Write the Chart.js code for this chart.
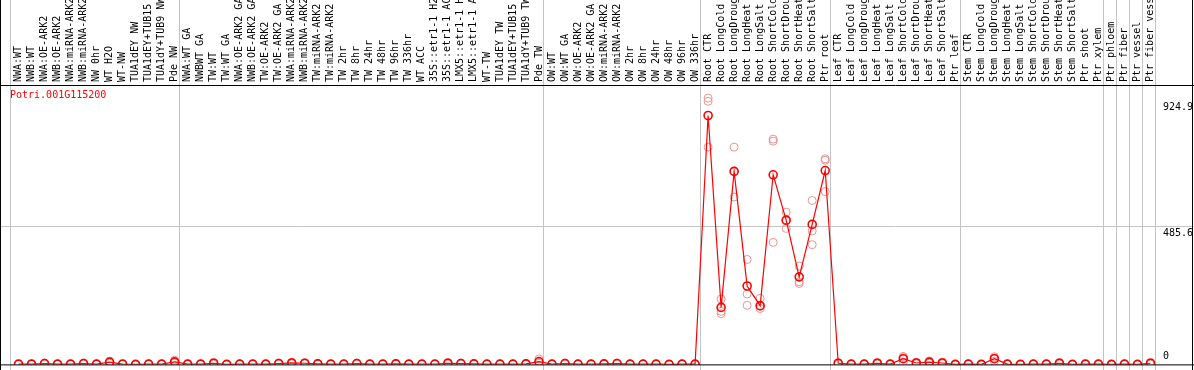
<!DOCTYPE html>
<html lang="en">
<head>
<meta charset="UTF-8">
<title>Potri.001G115200</title>
<script src="https://cdn.jsdelivr.net/npm/chart.js@4.4.9/dist/chart.umd.min.js"></script>
<style>
    html, body { margin: 0; padding: 0; background: #ffffff; }
</style>
</head>
<body>
<canvas id="myChartCanvas" width="1194" height="370"></canvas>
<script>
    // categories (labels are cut at 14 chars like in the picture)
    var categorias = [
        'NWA:WT', 'NWB:WT', 'NWA:OE-ARK2', 'NWB:OE-ARK2', 'NWA:miRNA-ARK2', 'NWB:miRNA-ARK2', 'NW 0hr', 'WT H2O',
        'WT-NW', 'TUA1dEY NW', 'TUA1dEY+TUB15', 'TUA1dY+TUB9 NW', 'Pde NW',
        'NWA:WT GA', 'NWBWT GA', 'TW:WT', 'TW:WT GA', 'NWA:OE-ARK2 GA', 'NWB:OE-ARK2 GA', 'TW:OE-ARK2', 'TW:OE-ARK2 GA',
        'NWA:miRNA-ARK2', 'NWB:miRNA-ARK2', 'TW:miRNA-ARK2', 'TW:miRNA-ARK2', 'TW 2hr', 'TW 8hr', 'TW 24hr', 'TW 48hr',
        'TW 96hr', 'TW 336hr', 'WT ACC', '35S::etr1-1 H2', '35S::etr1-1 AC', 'LMX5::etr1-1 H', 'LMX5::etr1-1 A', 'WT-TW',
        'TUA1dEY TW', 'TUA1dEY+TUB15', 'TUA1dY+TUB9 TW', 'Pde TW',
        'OW:WT', 'OW:WT GA', 'OW:OE-ARK2', 'OW:OE-ARK2 GA', 'OW:miRNA-ARK2', 'OW:miRNA-ARK2', 'OW 2hr', 'OW 8hr',
        'OW 24hr', 'OW 48hr', 'OW 96hr', 'OW 336hr',
        'Root CTR', 'Root LongCold', 'Root LongDroug', 'Root LongHeat', 'Root LongSalt', 'Root ShortCold',
        'Root ShortDrou', 'Root ShortHeat', 'Root ShortSalt', 'Ptr root',
        'Leaf CTR', 'Leaf LongCold', 'Leaf LongDroug', 'Leaf LongHeat', 'Leaf LongSalt', 'Leaf ShortCold',
        'Leaf ShortDrou', 'Leaf ShortHeat', 'Leaf ShortSalt', 'Ptr leaf',
        'Stem CTR', 'Stem LongCold', 'Stem LongDroug', 'Stem LongHeat', 'Stem LongSalt', 'Stem ShortCold',
        'Stem ShortDrou', 'Stem ShortHeat', 'Stem ShortSalt', 'Ptr shoot', 'Ptr xylem',
        'Ptr phloem', 'Ptr fiber', 'Ptr vessel', 'Ptr fiber vess'
    ];

    // group separators (index of first category of each group)
    var gruposInicio = [0, 13, 41, 53, 63, 73, 84, 85, 86, 87, 88];

    // mean expression
    var media = [
        1, 1, 3, 1, 1, 3, 1, 8, 1, 0, 1, 1, 9,
        1, 1, 4, 0, 1, 1, 1, 3, 5, 4, 2, 1, 1, 3, 1, 1, 2, 1, 1, 1, 4, 3, 2, 1, 1, 1, 2, 10,
        1, 3, 1, 1, 2, 3, 1, 1, 1, 0, 1, 1,
        873, 200, 677, 275, 206, 665, 506, 307, 491, 680,
        4, 1, 1, 4, 1, 20, 5, 8, 5, 0,
        1, 0, 20, 1, 0, 1, 1, 4, 0, 1, 1, 0, 1, 0, 4
    ];

    // replicates
    var rep1 = [
        1, 1, 5, 1, 1, 5, 1, 11, 1, 0, 1, 1, 15,
        1, 1, 7, 0, 1, 1, 1, 5, 8, 6, 3, 1, 1, 5, 1, 1, 3, 1, 1, 1, 7, 5, 3, 1, 1, 1, 3, 19,
        1, 5, 1, 1, 3, 5, 1, 1, 1, 0, 1, 1,
        934, 229, 762, 368, 232, 790, 534, 345, 575, 721,
        6, 1, 1, 7, 1, 28, 8, 12, 8, 0,
        1, 0, 27, 1, 0, 1, 1, 7, 0, 1, 1, 0, 1, 0, 7
    ];
    var rep2 = [
        1, 1, 3, 1, 1, 3, 1, 9, 1, 0, 1, 1, 7,
        1, 1, 4, 0, 1, 1, 1, 3, 5, 4, 2, 1, 1, 3, 1, 1, 2, 1, 1, 1, 4, 3, 2, 1, 1, 1, 2, 7,
        1, 3, 1, 1, 2, 3, 1, 1, 1, 0, 1, 1,
        923, 186, 587, 247, 196, 783, 477, 290, 468, 716,
        4, 1, 1, 4, 1, 24, 5, 8, 5, 0,
        1, 0, 22, 1, 0, 1, 1, 4, 0, 1, 1, 0, 1, 0, 4
    ];
    var rep3 = [
        1, 1, 1, 1, 1, 1, 1, 4, 1, 0, 1, 1, 5,
        1, 1, 1, 0, 1, 1, 1, 1, 2, 2, 1, 1, 1, 1, 1, 1, 1, 1, 1, 1, 1, 1, 1, 1, 1, 1, 1, 4,
        1, 1, 1, 1, 1, 1, 1, 1, 1, 0, 1, 1,
        762, 178, 677, 207, 204, 428, 503, 284, 420, 606,
        2, 1, 1, 1, 1, 8, 2, 4, 2, 0,
        1, 0, 11, 1, 0, 1, 1, 1, 0, 1, 1, 0, 1, 0, 1
    ];

    // y tick labels
    var yTicks = [0, 485.6, 924.9];
    var yMax = 980;
    var nomeGene = 'Potri.001G115200';

    var fonte = '10px "DejaVu Sans Mono", monospace';

    // frame, group lines, y labels and gene name
    const moldura = {
        id: 'moldura',
        beforeDatasetsDraw(chart) {
            const ctx = chart.ctx;
            const x = chart.scales.x;
            const y = chart.scales.y;
            ctx.save();
            ctx.strokeStyle = '#c4c4c4';
            ctx.lineWidth = 1;
            for (var i = 0; i < gruposInicio.length; i++) {
                var px = Math.round(x.getPixelForValue(gruposInicio[i] - 0.5)) - 2 + 0.5;
                ctx.beginPath();
                ctx.moveTo(px, 0);
                ctx.lineTo(px, chart.height);
                ctx.stroke();
            }
            var gy = Math.round(y.getPixelForValue(yTicks[1])) + 0.5;
            ctx.beginPath();
            ctx.moveTo(0, gy);
            ctx.lineTo(chart.width, gy);
            ctx.stroke();
            ctx.restore();
        },
        afterDraw(chart) {
            const ctx = chart.ctx;
            const area = chart.chartArea;
            const y = chart.scales.y;
            ctx.save();
            ctx.strokeStyle = '#000000';
            ctx.lineWidth = 1;
            ctx.beginPath();
            ctx.moveTo(0, area.top + 0.5);
            ctx.lineTo(chart.width, area.top + 0.5);
            ctx.moveTo(0, area.bottom + 0.5);
            ctx.lineTo(chart.width, area.bottom + 0.5);
            ctx.moveTo(0.5, 0);
            ctx.lineTo(0.5, chart.height);
            ctx.moveTo(chart.width - 1.5, 0);
            ctx.lineTo(chart.width - 1.5, chart.height);
            ctx.stroke();

            ctx.font = fonte;
            ctx.fillStyle = '#000000';
            ctx.textAlign = 'left';
            for (var i = 0; i < yTicks.length; i++) {
                var py = y.getPixelForValue(yTicks[i]);
                if (py + 12 > area.bottom) {
                    ctx.textBaseline = 'bottom';
                    ctx.fillText(String(yTicks[i]), area.right + 6, area.bottom - 3);
                } else {
                    ctx.textBaseline = 'top';
                    ctx.fillText(String(yTicks[i]), area.right + 6, py + 2);
                }
            }

            ctx.fillStyle = '#ff0000';
            ctx.textBaseline = 'alphabetic';
            ctx.fillText(nomeGene, 10, area.top + 13);
            ctx.restore();
        }
    };

    function plotarGrafico() {
        const repStyle = {
            showLine: false,
            pointRadius: 4,
            pointHoverRadius: 4,
            pointBorderWidth: 1,
            pointBorderColor: '#ec9191',
            pointBackgroundColor: 'rgba(0,0,0,0)',
            borderColor: '#ec9191'
        };
        const dados = {
            labels: categorias,
            datasets: [
                {
                    label: 'media',
                    data: media,
                    borderColor: '#ff0000',
                    borderWidth: 1.2,
                    tension: 0,
                    pointRadius: 4,
                    pointBorderWidth: 1.6,
                    pointBorderColor: '#ff0000',
                    pointBackgroundColor: 'rgba(0,0,0,0)'
                },
                Object.assign({ label: 'rep1', data: rep1 }, repStyle),
                Object.assign({ label: 'rep2', data: rep2 }, repStyle),
                Object.assign({ label: 'rep3', data: rep3 }, repStyle)
            ]
        };
        const config = {
            type: 'line',
            data: dados,
            options: {
                responsive: false,
                animation: false,
                devicePixelRatio: 1,
                layout: { padding: { left: 12, right: 37, top: 0, bottom: 0 } },
                plugins: {
                    legend: { display: false },
                    tooltip: { enabled: false }
                },
                scales: {
                    x: {
                        type: 'category',
                        position: 'top',
                        offset: true,
                        grid: { display: false, drawTicks: false },
                        border: { display: false },
                        ticks: {
                            autoSkip: false,
                            minRotation: 90,
                            maxRotation: 90,
                            padding: 3,
                            labelOffset: 12,
                            color: '#000000',
                            font: { family: '"DejaVu Sans Mono", monospace', size: 10 }
                        },
                        afterFit: function (scale) { scale.height = 85; }
                    },
                    y: {
                        display: false,
                        min: 0,
                        max: yMax
                    }
                }
            },
            plugins: [moldura]
        };
        let myChart = new Chart(document.getElementById('myChartCanvas'), config);
    }

    plotarGrafico();
</script>
</body>
</html>
